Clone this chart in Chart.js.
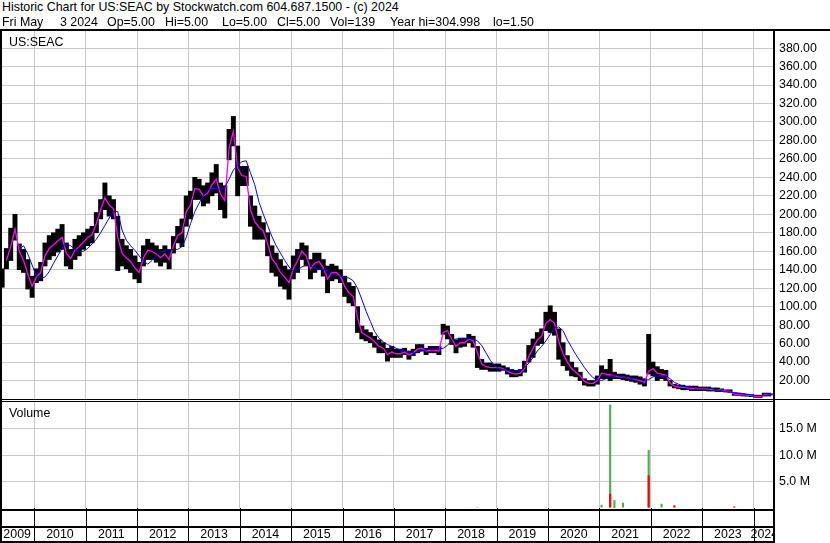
<!DOCTYPE html>
<html>
<head>
<meta charset="utf-8">
<script src="https://cdn.jsdelivr.net/npm/chart.js@4.4.0/dist/chart.umd.min.js"></script>
<style>
  body { margin: 0; background: #fff; }
  #wrap { position: relative; width: 830px; height: 543px; overflow: hidden; background: #fff;
          font-family: "Liberation Sans", Arial, sans-serif; font-size: 12.4px; color: #000; }
  .txt { position: absolute; white-space: pre; line-height: 15px; }
  .ln { position: absolute; background: #000; }
  canvas { position: absolute; left: 0; }
</style>
</head>
<body>
<div id="wrap">
  <canvas id="priceChart" width="830" height="371" style="top:29px"></canvas>
  <canvas id="volChart" width="830" height="143" style="top:400px"></canvas>
  <div class="txt" style="left:2px;top:0px">Historic Chart for US:SEAC by Stockwatch.com 604.687.1500 - (c) 2024</div>
  <div class="txt" style="left:2px;top:15px">Fri May</div>
  <div class="txt" style="left:60px;top:15px">3 2024</div>
  <div class="txt" style="left:107px;top:15px">Op=5.00</div>
  <div class="txt" style="left:165px;top:15px">Hi=5.00</div>
  <div class="txt" style="left:222px;top:15px">Lo=5.00</div>
  <div class="txt" style="left:277px;top:15px">Cl=5.00</div>
  <div class="txt" style="left:330px;top:15px">Vol=139</div>
  <div class="txt" style="left:390px;top:15px">Year hi=304.998</div>
  <div class="txt" style="left:493px;top:15px">lo=1.50</div>
  <div class="txt" style="left:9px;top:35px">US:SEAC</div>
  <div class="txt" style="left:9px;top:406px">Volume</div>
  <div class="ln" style="left:0;top:29px;width:830px;height:2px"></div>
  <div class="ln" style="left:0;top:29px;width:2px;height:514px"></div>
  <div class="ln" style="left:773px;top:29px;width:2px;height:514px"></div>
  <div class="ln" style="left:0;top:399px;width:830px;height:1px"></div>
  <div class="ln" style="left:0;top:401px;width:775px;height:1px"></div>
  <div class="ln" style="left:0;top:509px;width:775px;height:2px"></div>
  <div class="ln" style="left:0;top:526px;width:775px;height:2px"></div>
  <div class="ln" style="left:0;top:541px;width:775px;height:2px"></div>
</div>
<script>
// monthly categories, May 2009 .. May 2024
const months = []
for (let k = 2009 * 12 + 4; k <= 2024 * 12 + 4; k++) {
  months.push(Math.floor(k / 12) + '-' + String(k % 12 + 1).padStart(2, '0'))
}
const years = ['2009','2010','2011','2012','2013','2014','2015','2016','2017','2018','2019','2020','2021','2022','2023','2024']

// monthly trading range (low / high)
const priceLow = [
  121,141,150,172,140,137,119,110,
  126,128,144,151,155,159,162,144,141,151,155,162,
  166,169,180,195,205,198,195,139,144,141,137,130,
  126,144,151,151,148,144,148,141,158,169,165,187,
  195,216,216,209,212,220,223,205,196,259,274,220,
  231,231,187,173,173,173,155,137,133,122,119,108,
  130,137,151,144,130,137,140,133,115,128,130,126,
  111,104,101,72,65,63,61,56,50,50,41,45,
  45,45,48,43,47,50,52,48,50,50,48,70,
  65,59,50,56,57,61,56,34,32,32,30,30,
  30,31,27,24,24,25,29,40,45,58,60,74,
  72,69,43,36,31,25,24,20,15,14,14,16,
  22,22,20,22,22,21,20,19,18,16,14,27,
  25,20,22,20,14,12,11,10,10,9,9,9,
  9,8.6,8.6,8,8,7.5,7.2,3.9,3.6,3.2,3,2.5,
  1.7,1.5,3.2,3.2,4.5
]
const priceHigh = [
  141,163,185,200,168,162,151,133,
  141,148,169,177,180,184,189,169,162,173,177,180,
  184,187,202,216,234,220,216,198,173,166,162,155,
  148,166,173,169,166,162,166,162,176,187,195,220,
  225,240,238,231,234,245,254,234,231,292,306,274,
  252,252,220,209,198,191,180,166,158,151,144,140,
  155,162,169,166,151,158,158,151,144,146,144,140,
  133,126,122,100,79,75,72,68,64,61,55,57,
  54,54,55,52,54,59,59,55,57,57,57,81,
  79,70,64,66,66,70,68,57,43,39,39,38,
  38,36,34,32,31,32,41,58,65,72,76,94,
  101,94,76,61,47,40,34,29,22,20,20,25,
  36,32,43,29,27,27,26,25,25,24,22,70,
  40,35,32,31,20,16,15,15,14,14,14,13,
  13,13,12,12,11,10,10,6.4,6,5.7,5.2,4.7,
  3.9,3.9,6.4,6.4,5.5
]
// short moving average (magenta)
const maShort = [
  null,150,165,184,160,150,135,122,
  132,137,155,163,167,171,175,158,152,161,165,170,
  175,178,190,205,218,210,206,175,158,153,149,142,
  137,153,161,160,157,153,157,151,166,177,180,203,
  210,228,227,220,223,232,238,222,215,272,290,250,
  242,241,205,192,186,182,168,152,146,137,132,126,
  141,150,160,155,141,147,149,142,130,137,137,133,
  122,115,111,88,72,69,66,62,57,55,48,51,
  49,49,51,48,50,54,55,52,53,53,52,72,
  74,65,57,61,61,65,63,50,38,35,34,34,
  34,33,30,28,27,28,33,46,55,64,68,82,
  86,82,62,49,40,33,29,25,19,17,17,20,
  28,27,26,25,24,24,23,22,21,20,18,30,
  33,28,27,26,17,14,13,12.5,12,11.5,11.5,11,
  11,10.8,10.3,10,9.5,8.8,8.6,5.2,4.8,4.5,4.1,3.6,
  2.8,2.7,4.8,4.8,5
]
// long moving average (blue)
const maLong = [
  null,null,null,null,162,166,157,145,
  133,131,132,138,147,155,163,168,166,162,160,160,
  163,168,173,180,188,196,203,203,183,172,166,161,
  155,149,146,150,155,159,160,161,162,162,165,175,
  190,203,212,220,226,228,228,227,229,238,248,253,
  257,258,245,232,213,200,188,176,166,158,150,143,
  138,140,143,145,144,142,141,140,139,136,134,133,
  132,131,128,120,108,95,84,73,66,62,59,57,
  55,53,52,51,50,51,52,53,54,54,54,55,
  58,64,65,65,65,65,65,63,58,50,42,36,
  33,32,31,30,30,31,34,39,45,52,57,63,
  70,77,78,74,64,56,48,41,34,28,23,21,
  20,22,25,25,25,24,23,22,22,21,20,21,
  24,25,25,25,22,18,16,14,13,13,12,12,
  12,12,11,10,9,8,7.5,7,6.5,6,5,4.5,
  4,4,4,4.5,5
]

// volume in millions, only months with a visible bar
const volMonths = ['2018-08','2019-12','2021-01','2021-03','2021-04','2021-06','2021-09','2021-12','2022-01','2022-02','2022-03','2022-06','2023-08']
const volGreen  = [0,   0.15, 0.6, 19.6, 1.5, 1.0, 0.1, 11.0, 0,   0,   0.8, 0.15, 0.1]
const volRed    = [0.15, 0,   0.1, 2.7,  0.2, 0,   0,   6.2,  0.1, 0.1, 0,   0.5,  0.3]

const FONT = '"Liberation Sans", Arial, sans-serif'
const GRID = '#c8c8c8'
Chart.defaults.font.family = FONT
Chart.defaults.font.size = 12.4
Chart.defaults.color = '#000'

function janGrid(c) {
  return c.tick && c.tick.label && String(c.tick.label).endsWith('-01') ? GRID : 'rgba(0,0,0,0)'
}

function xScale() {
  return {
    grid: { offset: true, color: janGrid, drawTicks: false, lineWidth: 1 },
    ticks: { display: false, autoSkip: false },
    border: { display: false },
    afterFit: s => { s.height = 0; s.paddingLeft = 0; s.paddingRight = 0 }
  }
}

// right hand axis, fixed width, no extra padding for the end labels
function yFit(s) {
  s.width = 55
  s.paddingTop = 0
  s.paddingBottom = 0
}

new Chart(document.getElementById('priceChart'), {
  type: 'bar',
  data: {
    labels: months,
    datasets: [
      { type: 'line', data: maLong, borderColor: '#0000ff', borderWidth: 1, pointRadius: 0, tension: 0, order: 1 },
      { type: 'line', data: maShort, borderColor: '#ff00ff', borderWidth: 1.3, pointRadius: 0, tension: 0, order: 2 },
      { data: priceLow.map((lo, i) => [lo, priceHigh[i]]), backgroundColor: '#000',
        barPercentage: 1, categoryPercentage: 1, order: 3 }
    ]
  },
  options: {
    responsive: false, animation: false,
    layout: { padding: { top: 2, bottom: 1, left: 0, right: 0 } },
    plugins: { legend: { display: false }, tooltip: { enabled: false } },
    scales: {
      x: xScale(),
      y: {
        position: 'right', min: 0, max: 398.5,
        afterFit: yFit,
        grid: { color: GRID, drawTicks: false },
        border: { display: false },
        ticks: { stepSize: 20, includeBounds: false, autoSkip: false, padding: 4,
                 callback: v => v === 0 ? '' : v.toFixed(2) }
      }
    }
  }
})

const yearRow = {
  id: 'yearRow',
  afterDraw(chart) {
    const ctx = chart.ctx, xs = chart.scales.x, area = chart.chartArea
    ctx.save()
    ctx.beginPath()
    ctx.rect(0, area.bottom, area.right, chart.height - area.bottom)
    ctx.clip()
    ctx.fillStyle = '#000'
    ctx.strokeStyle = '#000'
    ctx.lineWidth = 1
    ctx.font = '12.4px ' + FONT
    ctx.textAlign = 'center'
    ctx.textBaseline = 'alphabetic'
    years.forEach(y => {
      const start = months.findIndex(m => m.startsWith(y))
      let next = months.findIndex(m => m.startsWith(String(+y + 1)))
      if (next < 0) next = months.length
      const left = xs.getPixelForValue(start - 0.5)
      const right = xs.getPixelForValue(next - 0.5)
      if (start > 0) {
        const px = Math.round(left) + 0.5
        ctx.beginPath()
        ctx.moveTo(px, area.bottom)
        ctx.lineTo(px, chart.height)
        ctx.stroke()
      }
      ctx.fillText(y, (left + right) / 2, 137.5)
    })
    ctx.restore()
  }
}

new Chart(document.getElementById('volChart'), {
  type: 'bar',
  data: {
    labels: months,
    datasets: [
      { data: months.map(m => { const j = volMonths.indexOf(m); return j < 0 ? 0 : volRed[j] }),
        backgroundColor: '#ff0000', barPercentage: 0.5, categoryPercentage: 1, grouped: false, order: 1 },
      { data: months.map(m => { const j = volMonths.indexOf(m); return j < 0 ? 0 : volGreen[j] }),
        backgroundColor: '#4caf50', barPercentage: 0.5, categoryPercentage: 1, grouped: false, order: 2 }
    ]
  },
  options: {
    responsive: false, animation: false,
    layout: { padding: { top: 2, bottom: 35, left: 0, right: 0 } },
    plugins: { legend: { display: false }, tooltip: { enabled: false } },
    scales: {
      x: xScale(),
      y: {
        position: 'right', min: 0, max: 20.1,
        afterFit: yFit,
        grid: { color: c => (c.tick && c.tick.value > 0 && c.tick.value < 20) ? GRID : 'rgba(0,0,0,0)', drawTicks: false },
        border: { display: false },
        ticks: { stepSize: 5, includeBounds: false, autoSkip: false, padding: 4,
                 callback: v => (v === 0 || v >= 20) ? '' : v.toFixed(1) + ' M' }
      }
    }
  },
  plugins: [yearRow]
})
</script>
</body>
</html>
